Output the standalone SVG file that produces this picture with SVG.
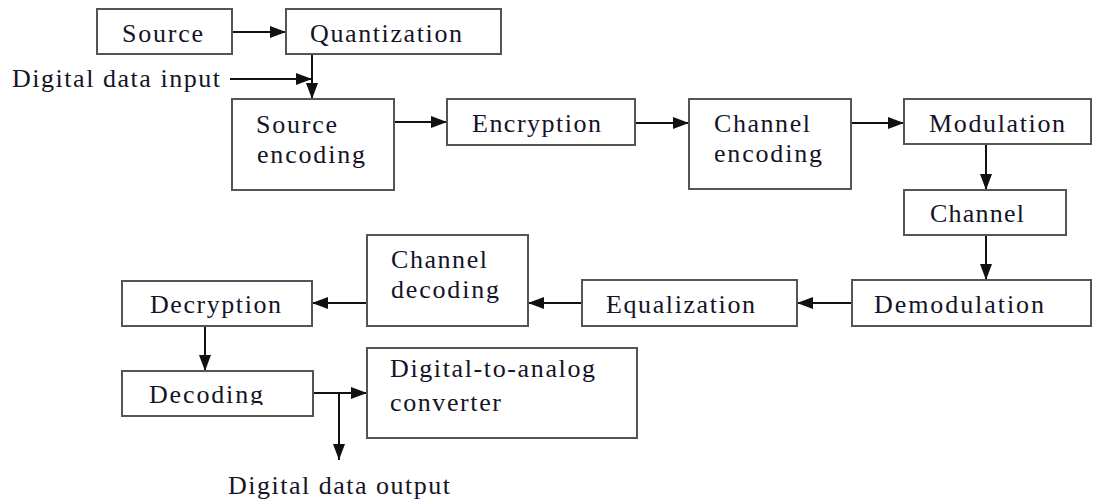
<svg xmlns="http://www.w3.org/2000/svg" width="1093" height="501" viewBox="0 0 1093 501">
  <defs>
    <marker id="arrow" viewBox="0 0 16 12" refX="16" refY="6" markerWidth="16" markerHeight="12" markerUnits="userSpaceOnUse" orient="auto">
      <path d="M0,0 L16,6 L0,12 Z" fill="#111"/>
    </marker>
    <clipPath id="decodingClip">
      <rect x="122" y="371" width="191" height="34"/>
    </clipPath>
  </defs>
  <style>
    .box { fill: #fff; stroke: #555; stroke-width: 2; }
    .lbl { font-family: "Liberation Serif", "Times New Roman", serif; font-size: 26px; fill: #141428; }
    .conn { stroke: #111; stroke-width: 2; fill: none; }
    .arr { marker-end: url(#arrow); }
  </style>
  <rect width="1093" height="501" fill="#fff"/>

  <!-- connectors -->
  <g id="connectors">
    <line class="conn arr" x1="232" y1="32" x2="286" y2="32"/>
    <line class="conn arr" x1="230" y1="79" x2="312" y2="79"/>
    <line class="conn arr" x1="312" y1="54" x2="312" y2="99"/>
    <line class="conn arr" x1="394" y1="122" x2="447" y2="122"/>
    <line class="conn arr" x1="635" y1="123" x2="689" y2="123"/>
    <line class="conn arr" x1="851" y1="123" x2="904" y2="123"/>
    <line class="conn arr" x1="986" y1="144" x2="986" y2="190"/>
    <line class="conn arr" x1="986" y1="235" x2="986" y2="280"/>
    <line class="conn arr" x1="852" y1="303" x2="797" y2="303"/>
    <line class="conn arr" x1="582" y1="303" x2="528" y2="303"/>
    <line class="conn arr" x1="367" y1="303" x2="312" y2="303"/>
    <line class="conn arr" x1="205" y1="326" x2="205" y2="371"/>
    <line class="conn arr" x1="313" y1="393" x2="367" y2="393"/>
    <line class="conn arr" x1="339" y1="393" x2="339" y2="460"/>
  </g>

  <!-- free labels -->
  <text class="lbl" x="12" y="87" textLength="208" lengthAdjust="spacing">Digital data input</text>
  <text class="lbl" x="228" y="494" textLength="222" lengthAdjust="spacing">Digital data output</text>

  <g id="source">
    <rect class="box" x="97" y="9" width="135" height="45"/>
    <text class="lbl" x="122" y="42" textLength="81" lengthAdjust="spacing">Source</text>
  </g>
  <g id="quantization">
    <rect class="box" x="286" y="9" width="215" height="45"/>
    <text class="lbl" x="310" y="42" textLength="152" lengthAdjust="spacing">Quantization</text>
  </g>
  <g id="source-encoding">
    <rect class="box" x="232" y="99" width="162" height="91"/>
    <text class="lbl" x="256" y="133" textLength="81" lengthAdjust="spacing">Source</text>
    <text class="lbl" x="257" y="163" textLength="108" lengthAdjust="spacing">encoding</text>
  </g>
  <g id="encryption">
    <rect class="box" x="447" y="99" width="188" height="46"/>
    <text class="lbl" x="472" y="132" textLength="129" lengthAdjust="spacing">Encryption</text>
  </g>
  <g id="channel-encoding">
    <rect class="box" x="689" y="99" width="162" height="90"/>
    <text class="lbl" x="714" y="132" textLength="96" lengthAdjust="spacing">Channel</text>
    <text class="lbl" x="714" y="162" textLength="108" lengthAdjust="spacing">encoding</text>
  </g>
  <g id="modulation">
    <rect class="box" x="904" y="99" width="187" height="45"/>
    <text class="lbl" x="929" y="132" textLength="136" lengthAdjust="spacing">Modulation</text>
  </g>
  <g id="channel">
    <rect class="box" x="904" y="190" width="162" height="45"/>
    <text class="lbl" x="930" y="222" textLength="94" lengthAdjust="spacing">Channel</text>
  </g>
  <g id="demodulation">
    <rect class="box" x="852" y="280" width="239" height="46"/>
    <text class="lbl" x="874" y="313" textLength="170" lengthAdjust="spacing">Demodulation</text>
  </g>
  <g id="equalization">
    <rect class="box" x="582" y="280" width="215" height="46"/>
    <text class="lbl" x="606" y="313" textLength="149" lengthAdjust="spacing">Equalization</text>
  </g>
  <g id="channel-decoding">
    <rect class="box" x="367" y="235" width="161" height="91"/>
    <text class="lbl" x="391" y="268" textLength="96" lengthAdjust="spacing">Channel</text>
    <text class="lbl" x="391" y="298" textLength="108" lengthAdjust="spacing">decoding</text>
  </g>
  <g id="decryption">
    <rect class="box" x="122" y="281" width="190" height="45"/>
    <text class="lbl" x="150" y="313" textLength="131" lengthAdjust="spacing">Decryption</text>
  </g>
  <g id="decoding">
    <rect class="box" x="122" y="371" width="191" height="45"/>
    <text class="lbl" x="149" y="403" textLength="114" lengthAdjust="spacing" clip-path="url(#decodingClip)">Decoding</text>
  </g>
  <g id="dac">
    <rect class="box" x="367" y="348" width="270" height="90"/>
    <text class="lbl" x="390" y="377" textLength="205" lengthAdjust="spacing">Digital-to-analog</text>
    <text class="lbl" x="390" y="411" textLength="111" lengthAdjust="spacing">converter</text>
  </g>
</svg>
